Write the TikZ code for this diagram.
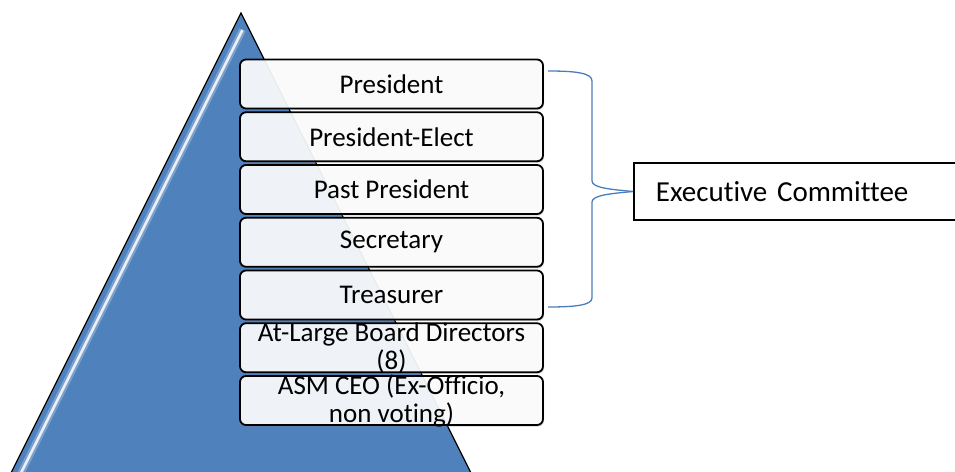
\documentclass[tikz,border=0pt]{standalone}
\usepackage{fontspec}
\setmainfont{Carlito}[Ligatures={NoCommon}]
\usetikzlibrary{shadows}
\definecolor{pyrblue}{HTML}{4F81BD}
\definecolor{braceblue}{HTML}{4A7EBB}

\begin{document}
\begin{tikzpicture}[x=1pt,y=-1pt,
	tier/.style={draw,line width=1.8pt,rounded corners=6pt,fill=white,fill opacity=0.9,draw opacity=1,
		minimum width=303pt,minimum height=49pt,inner sep=0pt,
		drop shadow={shadow xshift=1pt,shadow yshift=-1.5pt,opacity=0.35}},
	tiertext/.style={opacity=1,inner sep=0pt,font=\fontsize{27}{28}\selectfont,align=center},
	brace/.style={braceblue,line width=1.3pt}]
				\useasboundingbox (0,0) rectangle (955,471);
				\coordinate (apex) at (241,13);
				\coordinate (left) at (7,481);
				\coordinate (right) at (475,481);
				\filldraw[fill=pyrblue,draw=black,line width=1.3pt] (apex) -- (left) -- (right) -- cycle;
				\draw[white,line width=7pt,opacity=0.25] (242.5,30) -- (17.5,480);
				\draw[white,line width=2.5pt,opacity=0.85] (242.5,30) -- (17.5,480);
				\node[tier,label={[tiertext]center:President}] (pres) at (391.5,84) {};
				\node[tier,label={[tiertext]center:President-Elect}] (elect) at (391.5,136.75) {};
				\node[tier,label={[tiertext]center:Past President}] (past) at (391.5,189.5) {};
				\node[tier,label={[tiertext]center:Secretary}] (secr) at (391.5,242.25) {};
				\node[tier,label={[tiertext]center:Treasurer}] (treas) at (391.5,295) {};
				\node[tier,label={[tiertext]center:{At-Large Board Directors\\(8)}}] (board) at (391.5,347.75) {};
				\node[tier,label={[tiertext]center:{ASM CEO (Ex-Officio,\\non voting)}}] (ceo) at (391.5,400.5) {};
				\node[draw,line width=1.8pt,anchor=west,minimum height=57pt,text width=281pt,inner xsep=22pt,
					align=left,font=\fontsize{29}{32}\selectfont] (exec) at (633,191.5) {Executive Committee};
				\coordinate (btop) at (548,71);
				\coordinate (bbot) at (548,307);
				\draw[brace] (btop) .. controls (576,71) and (592,73) .. (592,81) -- (592,181) .. controls (592,188) and (612,189.5) .. (exec.west);
				\draw[brace] (bbot) .. controls (576,307) and (592,305) .. (592,298) -- (592,202) .. controls (592,195) and (612,193.5) .. (exec.west);
			\end{tikzpicture}
\end{document}
